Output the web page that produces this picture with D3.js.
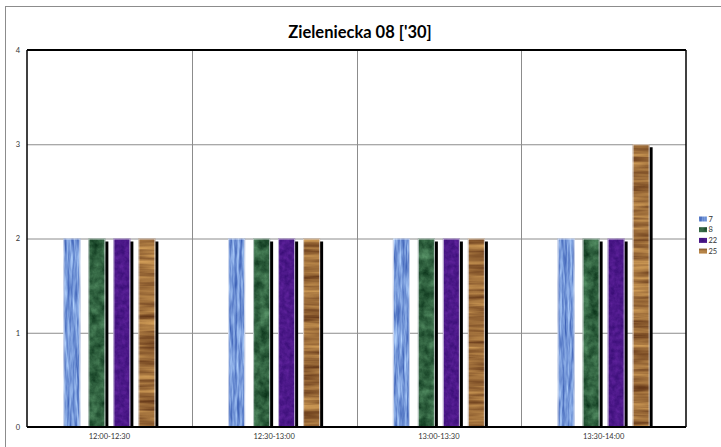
<!DOCTYPE html>
<html><head><meta charset="utf-8">
<script src="https://cdn.jsdelivr.net/npm/d3@7"></script>
<style>body{margin:0;background:#fff}svg{display:block}</style>
</head><body>
<div id="chart"></div>
<script>
const title = "Zieleniecka 08 ['30]";
const categories = ["12:00-12:30","12:30-13:00","13:00-13:30","13:30-14:00"];
const seriesNames = ["7","8","22","25"];
const s7  = [2,2,2,2];
const s8  = [2,2,2,2];
const s22 = [2,2,2,2];
const s25 = [2,2,2,3];
const yTicks = [0,1,2,3,4];

const seriesValues = [s7, s8, s22, s25];
const textures = [
  {id:"tex7",  dark:[0.28,0.42,0.74], light:[0.64,0.77,0.96], freq:"0.4 0.04", gain:1.8, type:"fractalNoise", oct:3, shadow:false},
  {id:"tex8",  dark:[0.08,0.25,0.14], light:[0.30,0.52,0.36], freq:"0.1 0.1", gain:1.7, type:"fractalNoise", oct:4, shadow:true},
  {id:"tex22", dark:[0.22,0.05,0.46], light:[0.38,0.14,0.62], freq:"0.2 0.2", gain:1.2, type:"fractalNoise", oct:3, shadow:true},
  {id:"tex25", dark:[0.44,0.26,0.12], light:[0.78,0.58,0.32], freq:"0.015 0.2", gain:1.9, type:"fractalNoise", oct:3, shadow:true}
];

const W = 721, H = 447;
const font = "Lato, 'Open Sans', sans-serif";
const svg = d3.select("#chart").append("svg").attr("width", W).attr("height", H);
const defs = svg.append("defs");
textures.forEach(t => {
  const f = defs.append("filter").attr("id", t.id)
    .attr("x", "0%").attr("y", "0%").attr("width", "100%").attr("height", "100%")
    .attr("color-interpolation-filters", "sRGB");
  f.append("feTurbulence").attr("type", t.type).attr("baseFrequency", t.freq)
    .attr("numOctaves", t.oct).attr("seed", 3).attr("result", "noise");
  const row = (c) => {
    const k = (t.light[c]-t.dark[c])*t.gain;
    const o = t.dark[c] + (t.light[c]-t.dark[c])*(0.5-0.5*t.gain);
    return `${k} 0 0 0 ${o}`;
  };
  f.append("feColorMatrix").attr("in","noise").attr("type","matrix")
    .attr("values", `${row(0)} ${row(1)} ${row(2)} 0 0 0 0 1`).attr("result","col");
  f.append("feComposite").attr("in","col").attr("in2","SourceGraphic").attr("operator","in");
});

// outer frame (extends past right/bottom edge)
svg.append("rect").attr("x",5.5).attr("y",6.5).attr("width",800).attr("height",500)
  .attr("fill","#fff").attr("stroke","#8c8c8c").attr("stroke-width",1);

svg.append("text").attr("x",360).attr("y",38).attr("text-anchor","middle")
  .attr("font-family",font).attr("font-weight","bold")
  .attr("font-size",16.5).attr("fill","#000").text(title);

const m = {l:27, r:686, t:50, b:427};
const x0 = d3.scaleBand().domain(categories).range([m.l, m.r]).padding(0);
const bw = x0.bandwidth();
const x1 = d3.scaleBand().domain(seriesNames).range([0, bw]).paddingInner(0.32).paddingOuter(1.455);
const y = d3.scaleLinear().domain([0,4]).range([m.b, m.t]);

defs.append("clipPath").attr("id","plotClip").append("rect")
  .attr("x",m.l).attr("y",m.t).attr("width",m.r-m.l).attr("height",m.b-m.t);

// gridlines
const g = svg.append("g");
g.selectAll("line.h").data(yTicks.filter(d=>d>0 && d<4)).join("line")
  .attr("x1",m.l).attr("x2",m.r).attr("y1",d=>y(d)+0.5).attr("y2",d=>y(d)+0.5)
  .attr("stroke","#8c8c8c").attr("stroke-width",1);
g.selectAll("line.v").data(categories.slice(1)).join("line")
  .attr("x1",d=>Math.round(x0(d))+0.5).attr("x2",d=>Math.round(x0(d))+0.5)
  .attr("y1",m.t).attr("y2",m.b).attr("stroke","#8c8c8c").attr("stroke-width",1);

// bars
const bars = svg.append("g").attr("clip-path","url(#plotClip)");
categories.forEach((c, ci) => {
  seriesNames.forEach((s, si) => {
    const v = seriesValues[si][ci];
    const bx = x0(c) + x1(s);
    const by = y(v);
    const bh = y(0) - y(v);
    if (textures[si].shadow) {
      bars.append("rect").attr("x", bx+3).attr("y", by+3).attr("width", x1.bandwidth()).attr("height", bh)
        .attr("fill", "#000");
    }
    bars.append("rect").attr("x", bx).attr("y", by).attr("width", x1.bandwidth()).attr("height", bh)
      .attr("fill", "#888").attr("filter", `url(#${textures[si].id})`);
    bars.append("rect").attr("x", bx+0.5).attr("y", by+0.5).attr("width", x1.bandwidth()-1).attr("height", bh-1)
      .attr("fill", "none").attr("stroke", "rgba(235,235,240,0.75)").attr("stroke-width",1);
  });
});

// plot border
svg.append("line").attr("x1",m.l).attr("x2",m.r).attr("y1",m.t).attr("y2",m.t).attr("stroke","#000").attr("stroke-width",2);
svg.append("line").attr("x1",m.l).attr("x2",m.r).attr("y1",m.b).attr("y2",m.b).attr("stroke","#000").attr("stroke-width",2);
svg.append("line").attr("x1",m.l).attr("x2",m.l).attr("y1",m.t).attr("y2",m.b).attr("stroke","#000").attr("stroke-width",1.5);
svg.append("line").attr("x1",m.r).attr("x2",m.r).attr("y1",m.t).attr("y2",m.b).attr("stroke","#000").attr("stroke-width",1.5);

// y axis labels
const yAxis = d3.axisLeft(y).tickValues(yTicks).tickSize(0).tickPadding(7).tickFormat(d3.format("d"));
const ya = svg.append("g").attr("transform",`translate(${m.l},0)`).call(yAxis);
ya.select(".domain").remove();
ya.selectAll("text").attr("font-family",font).attr("font-size",7.5).attr("fill","#333");

// x axis labels
const xAxis = d3.axisBottom(x0).tickSize(0).tickPadding(7);
const xa = svg.append("g").attr("transform",`translate(0,${m.b})`).call(xAxis);
xa.select(".domain").remove();
xa.selectAll("text").attr("font-family",font).attr("font-size",7.5).attr("fill","#333");

// legend
const leg = svg.append("g");
seriesNames.forEach((s, i) => {
  const ly = 219 + i*10.7;
  leg.append("rect").attr("x",699).attr("y",ly-2.5).attr("width",8).attr("height",5)
    .attr("fill","#888").attr("filter",`url(#${textures[i].id})`);
  leg.append("text").attr("x",708.5).attr("y",ly+2.6).attr("font-family",font)
    .attr("font-size",7.5).attr("fill","#333").text(s);
});
</script>
</body></html>
